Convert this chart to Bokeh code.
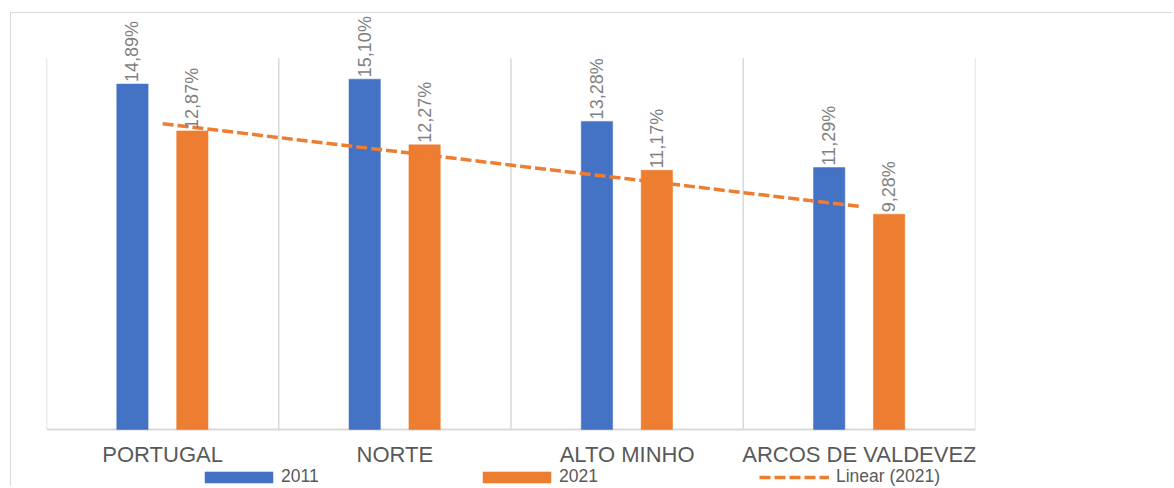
import numpy as np
from bokeh.plotting import figure
from bokeh.models import ColumnDataSource, Range1d, Legend, LegendItem
from bokeh.core.properties import value
from bokeh.embed import file_html
from bokeh.resources import INLINE

categories = ["PORTUGAL", "NORTE", "ALTO MINHO", "ARCOS DE VALDEVEZ"]
values_2011 = [14.89, 15.10, 13.28, 11.29]
values_2021 = [12.87, 12.27, 11.17, 9.28]
series_names = ["2011", "2021", "Linear (2021)"]
y_max_axis = 16

BLUE = "#4472C4"
ORANGE = "#ED7D31"
GRID = "#d9d9d9"
TXT = "#595959"
LBL = "#7f7f7f"
FONT = "Liberation Sans, Arial, sans-serif"

n = len(categories)
centers = np.arange(n) + 0.5
off_a, off_b, bw = -0.130, 0.128, 0.135

def fmt(v):
    return f"{v:.2f}".replace(".", ",") + "%"

src_a = ColumnDataSource(dict(x=centers + off_a, top=values_2011, lab=[fmt(v) for v in values_2011]))
src_b = ColumnDataSource(dict(x=centers + off_b, top=values_2021, lab=[fmt(v) for v in values_2021]))
src_c = ColumnDataSource(dict(x=centers, y=[0] * n, name=categories))

# linear trendline of the 2021 series (least squares over category index)
idx = np.arange(1, n + 1)
slope, intercept = np.polyfit(idx, values_2021, 1)
src_t = ColumnDataSource(dict(x=centers, y=slope * idx + intercept))

W, H = 1162, 474
p = figure(width=W, height=H, output_backend="svg", toolbar_location=None,
           x_range=Range1d(0, n), y_range=Range1d(-2.5, 17.93),
           min_border_left=35, min_border_right=W - 35 - 929, min_border_top=0, min_border_bottom=0,
           styles={"border-left": "1px solid #d9d9d9", "border-top": "1px solid #d9d9d9",
                   "margin-left": "10px", "margin-top": "12px"})
p.outline_line_color = None
p.background_fill_color = "white"
p.border_fill_color = "white"
p.xgrid.visible = False
p.ygrid.visible = False
p.xaxis.visible = False
p.yaxis.visible = False

# category separators (vertical gridlines) and category-axis baseline
bounds = list(range(n + 1))
p.segment(x0=bounds, y0=[0] * (n + 1), x1=bounds, y1=[y_max_axis] * (n + 1),
          line_color=GRID, line_width=1.5)
p.segment(x0=[0], y0=[0], x1=[n], y1=[0], line_color=GRID, line_width=2)

ra = p.vbar(x="x", top="top", width=bw, source=src_a, fill_color=BLUE, line_color=BLUE, line_width=0.5)
rb = p.vbar(x="x", top="top", width=bw, source=src_b, fill_color=ORANGE, line_color=ORANGE, line_width=0.5)
rt = p.line(x="x", y="y", source=src_t, line_color=ORANGE, line_width=3.5, line_dash="11 4")

for s in (src_a, src_b):
    p.text(x="x", y="top", text="lab", source=s, angle=np.pi / 2, text_align="left",
           text_baseline="middle", y_offset=-2, text_font=value(FONT),
           text_font_size="18px", text_color=LBL)

# category labels under the baseline
p.text(x="x", y="y", text="name", source=src_c, text_align="center", text_baseline="middle",
       y_offset=25, text_font=value(FONT), text_font_size="22px", text_color=TXT)

legend_specs = [
    (ra, series_names[0], 150, 85, 14, -2),
    (rb, series_names[1], 428, 85, 14, -2),
    (rt, series_names[2], 713, 70, 14, 7),
]
for r, name, vx, gw, gh, so in legend_specs:
    lg = Legend(items=[LegendItem(label=name, renderers=[r])], location=(vx, 0),
                orientation="horizontal", padding=0, margin=0, spacing=0,
                glyph_width=gw, glyph_height=gh, label_standoff=so,
                label_text_font=FONT, label_text_font_size="17.5px", label_text_color=TXT,
                border_line_color=None, background_fill_alpha=0)
    p.add_layout(lg, "center")

open("out.html", "w").write(file_html(p, INLINE))
